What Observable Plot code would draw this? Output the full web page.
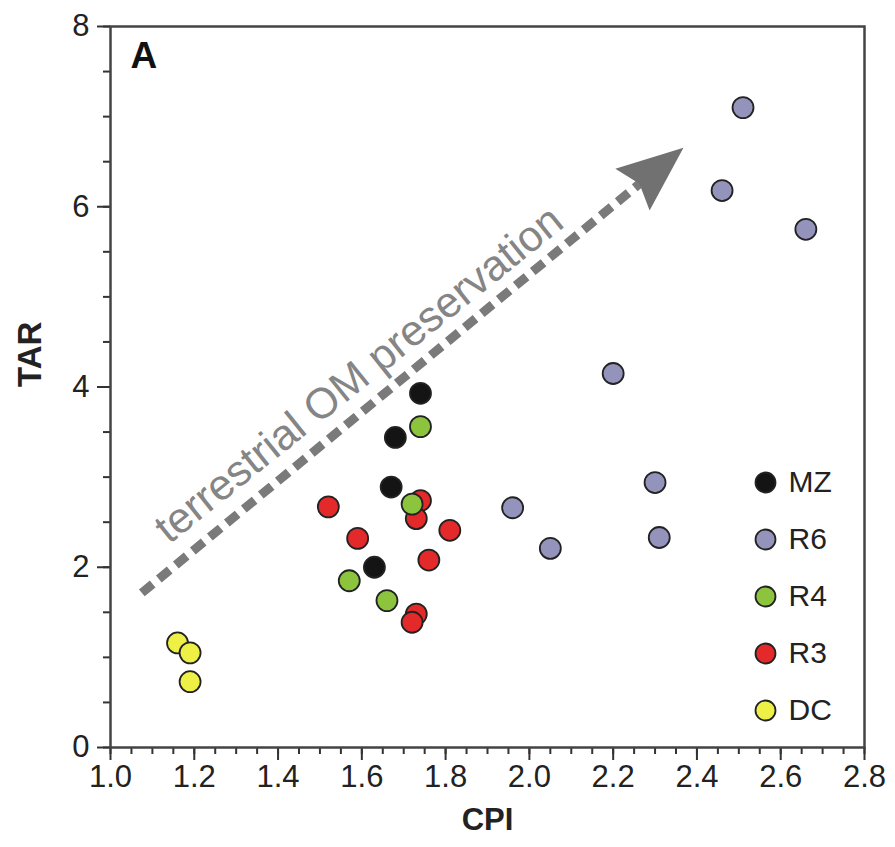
<!DOCTYPE html>
<html><head><meta charset="utf-8">
<script src="https://cdn.jsdelivr.net/npm/d3@7"></script>
<script src="https://cdn.jsdelivr.net/npm/@observablehq/plot@0.6"></script>
<style>
body{margin:0;background:#fff;}
#wrap{position:relative;width:895px;height:847px;}
</style></head><body><div id="wrap"></div>
<script>
// Groups, colours (legend order)
const groups = ["MZ", "R6", "R4", "R3", "DC"];
const colors = ["#141414", "#9393bb", "#8cc43e", "#e3292a", "#eef046"];
// Series values (CPI, TAR)
const MZ_cpi = [1.74, 1.68, 1.67, 1.63];
const MZ_tar = [3.93, 3.44, 2.89, 2.00];
const R6_cpi = [2.51, 2.46, 2.66, 2.20, 2.30, 2.31, 1.96, 2.05];
const R6_tar = [7.10, 6.18, 5.75, 4.15, 2.94, 2.33, 2.66, 2.21];
const R4_cpi = [1.74, 1.72, 1.57, 1.66];
const R4_tar = [3.56, 2.70, 1.85, 1.63];
const R3_cpi = [1.52, 1.74, 1.73, 1.81, 1.59, 1.76, 1.73, 1.72];
const R3_tar = [2.67, 2.74, 2.54, 2.41, 2.32, 2.08, 1.48, 1.39];
const DC_cpi = [1.16, 1.19, 1.19];
const DC_tar = [1.16, 1.05, 0.73];
// Tick values
const xTicks = [1.0, 1.2, 1.4, 1.6, 1.8, 2.0, 2.2, 2.4, 2.6, 2.8];
const xMinor = d3.range(1.0, 2.8001, 0.05);
const yTicks = [0, 2, 4, 6, 8];
const yMinor = d3.range(0, 8.001, 0.5);
// Annotation arrow (start, tip) and its label anchor
const arrowCPI = [1.076, 2.369];
const arrowTAR = [1.71, 6.65];
const arrowLabel = ["terrestrial OM preservation"];
const labelCPI = [1.14];
const labelTAR = [2.25];

const series = {MZ: [MZ_cpi, MZ_tar], R6: [R6_cpi, R6_tar], R4: [R4_cpi, R4_tar], R3: [R3_cpi, R3_tar], DC: [DC_cpi, DC_tar]};
const drawOrder = ["MZ", "R6", "R3", "R4", "DC"];
const rows = drawOrder.flatMap(g => series[g][0].map((c, i) => ({group: g, cpi: c, tar: series[g][1][i]})));

const font = '"Liberation Sans", Arial, Helvetica, sans-serif';

function arrowMark(index, scales) {
  const X = scales.x, Y = scales.y;
  const x0 = X(arrowCPI[0]), y0 = Y(arrowTAR[0]), x1 = X(arrowCPI[1]), y1 = Y(arrowTAR[1]);
  const len = Math.hypot(x1 - x0, y1 - y0);
  const ux = (x1 - x0) / len, uy = (y1 - y0) / len;
  const nx = -uy, ny = ux;
  const hl = 66, hw = 27, notch = 9;
  const g = d3.create("svg:g");
  g.append("line")
    .attr("x1", x0).attr("y1", y0)
    .attr("x2", x1 - ux * (hl - notch - 2)).attr("y2", y1 - uy * (hl - notch - 2))
    .attr("stroke", "#7a7a7a").attr("stroke-width", 9)
    .attr("stroke-dasharray", "14,8");
  const bx = x1 - ux * hl, by = y1 - uy * hl;
  const p = [[x1, y1], [bx + nx * hw, by + ny * hw], [x1 - ux * (hl - notch), y1 - uy * (hl - notch)], [bx - nx * hw, by - ny * hw]];
  g.append("path").attr("d", "M" + p.map(d => d.join(",")).join("L") + "Z").attr("fill", "#717171");
  return g.node();
}

const legendMarks = groups.flatMap((g, i) => [
  Plot.dot([g], {frameAnchor: "bottom-right", dx: -99, dy: -37 - (4 - i) * 57, r: 10, fill: colors[i], stroke: "#222", strokeWidth: 1.8}),
  Plot.text([g], {frameAnchor: "bottom-right", dx: -76, dy: -37 - (4 - i) * 57, text: d => d, textAnchor: "start", lineAnchor: "middle", fontSize: 30, fill: "#222"})
]);

const chart = Plot.plot({
  width: 895, height: 847,
  marginLeft: 110, marginRight: 31, marginTop: 26, marginBottom: 100,
  style: {fontFamily: font, background: "#fff", overflow: "visible"},
  x: {domain: [1.0, 2.8]},
  y: {domain: [0, 8]},
  color: {domain: groups, range: colors},
  marks: [
    Plot.axisX(xMinor, {tickSize: 7, tickFormat: () => "", stroke: "#333", strokeWidth: 2, label: null}),
    Plot.axisX(xTicks, {tickSize: 13, tickPadding: 4, tickFormat: d3.format(".1f"), fontSize: 31, fill: "#222", stroke: "#333", strokeWidth: 2, label: null}),
    Plot.axisY(yMinor, {tickSize: 7, tickFormat: () => "", stroke: "#333", strokeWidth: 2, label: null}),
    Plot.axisY(yTicks, {tickSize: 13, tickPadding: 8, tickFormat: d3.format("d"), fontSize: 31, fill: "#222", stroke: "#333", strokeWidth: 2, label: null}),
    Plot.frame({stroke: "#444", strokeWidth: 2.5}),
    Plot.text(["CPI"], {frameAnchor: "bottom", dy: 73, text: d => d, fontSize: 31, fontWeight: "bold", fill: "#222", lineAnchor: "middle"}),
    Plot.text(["TAR"], {frameAnchor: "left", dx: -80, text: d => d, rotate: -90, fontSize: 33, fontWeight: "bold", fill: "#222", lineAnchor: "middle"}),
    Plot.text(["A"], {frameAnchor: "top-left", dx: 20, dy: 15, text: d => d, fontSize: 37, fontWeight: "bold", fill: "#111", textAnchor: "start", lineAnchor: "top"}),
    arrowMark,
    Plot.text(arrowLabel, {x: () => labelCPI[0], y: () => labelTAR[0], text: d => d, rotate: -38.8, textAnchor: "start", lineAnchor: "bottom", fontSize: 43, fill: "#858585"}),
    Plot.dot(rows, {x: "cpi", y: "tar", fill: "group", r: 10.5, stroke: "#222", strokeWidth: 1.8}),
    ...legendMarks
  ]
});
document.getElementById("wrap").append(chart);
</script>
</body></html>
